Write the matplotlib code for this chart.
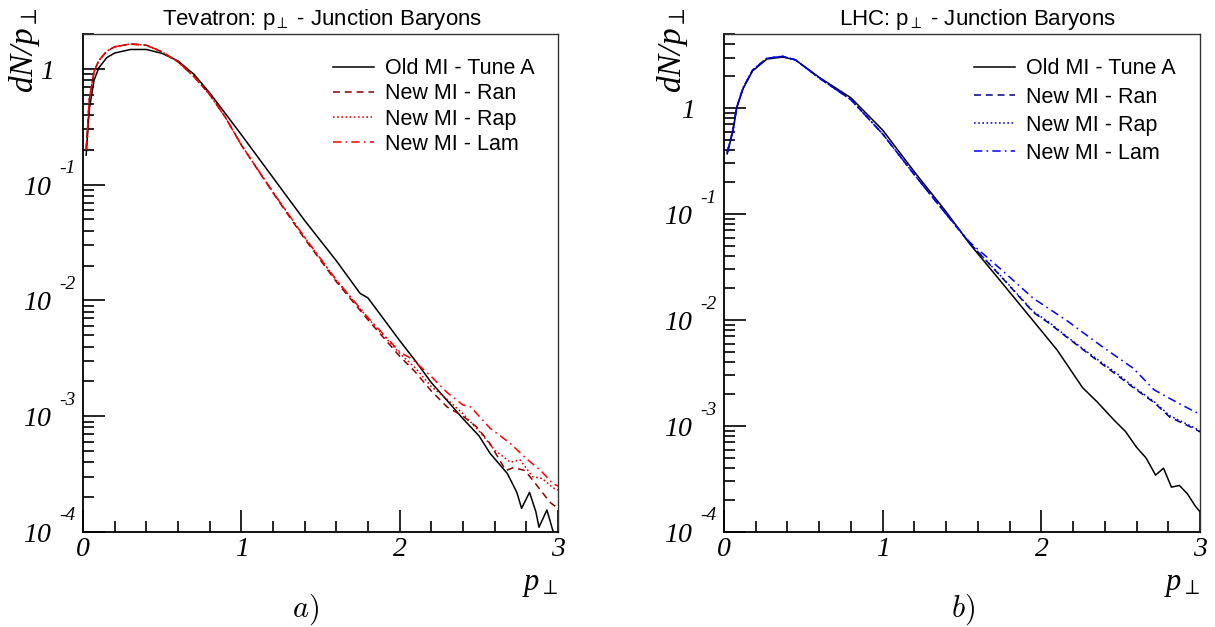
import numpy as np
import matplotlib
matplotlib.use("Agg")
import matplotlib.pyplot as plt
import matplotlib.transforms as mtrans
from matplotlib.ticker import FixedLocator, LogLocator, MultipleLocator, FuncFormatter, NullFormatter

plt.rcParams['font.family'] = ['Liberation Sans', 'DejaVu Sans']
plt.rcParams['mathtext.fontset'] = 'custom'
plt.rcParams['mathtext.rm'] = 'Liberation Serif:italic'
plt.rcParams['mathtext.it'] = 'Liberation Serif:italic'
plt.rcParams['mathtext.bf'] = 'Liberation Serif:bold'
plt.rcParams['mathtext.fallback'] = 'stix'
plt.rcParams['lines.scale_dashes'] = False

# ---------------- Data ----------------
# Tevatron panel
tev_old_x = [0.02, 0.04, 0.07, 0.10, 0.15, 0.20, 0.30, 0.40, 0.50, 0.60, 0.70, 0.80, 0.90, 1.00, 1.20, 1.40, 1.60,
             1.75, 1.80, 1.85, 2.00, 2.10, 2.20, 2.32, 2.40, 2.50, 2.57, 2.68, 2.74, 2.77, 2.82, 2.86, 2.88, 2.93, 2.97, 3.00]
tev_old_y = [0.18, 0.45, 0.80, 1.02, 1.25, 1.37, 1.47, 1.47, 1.36, 1.17, 0.90, 0.62, 0.41, 0.27, 0.115, 0.049, 0.022,
             0.0115, 0.0105, 0.0085, 4.5e-3, 3.0e-3, 1.95e-3, 1.27e-3, 9.5e-4, 6.8e-4, 4.8e-4, 3.2e-4, 2.2e-4, 1.6e-4,
             2.2e-4, 1.5e-4, 1.1e-4, 1.55e-4, 1.0e-4, 6e-5]

tev_body_x = [0.02, 0.04, 0.07, 0.10, 0.15, 0.20, 0.30, 0.40, 0.50, 0.60, 0.70, 0.80, 0.90, 1.00, 1.20, 1.40, 1.60, 1.80, 2.00]
tev_ran_body = [0.20, 0.55, 0.95, 1.18, 1.42, 1.55, 1.64, 1.60, 1.40, 1.15, 0.86, 0.60, 0.38, 0.22, 0.085, 0.034, 0.0145, 0.0068, 3.3e-3]
tev_rap_body = [0.20, 0.55, 0.95, 1.18, 1.42, 1.55, 1.64, 1.60, 1.40, 1.15, 0.86, 0.60, 0.38, 0.22, 0.086, 0.035, 0.015, 0.0070, 3.5e-3]
tev_lam_body = [0.20, 0.55, 0.95, 1.18, 1.42, 1.55, 1.64, 1.60, 1.40, 1.15, 0.86, 0.60, 0.38, 0.22, 0.086, 0.035, 0.015, 0.0071, 3.6e-3]

tev_ran_tail_x = [2.10, 2.20, 2.30, 2.40, 2.49, 2.57, 2.67, 2.72, 2.79, 2.85, 2.95, 3.00]
tev_ran_tail_y = [2.4e-3, 1.65e-3, 1.2e-3, 1.0e-3, 8.0e-4, 5.8e-4, 3.4e-4, 3.6e-4, 3.4e-4, 2.7e-4, 1.8e-4, 1.6e-4]
tev_rap_tail_x = [2.10, 2.20, 2.30, 2.40, 2.50, 2.60, 2.70, 2.76, 2.84, 2.90, 2.97, 3.00]
tev_rap_tail_y = [2.6e-3, 1.8e-3, 1.4e-3, 1.05e-3, 7.5e-4, 5.1e-4, 4.0e-4, 4.2e-4, 3.0e-4, 2.9e-4, 2.4e-4, 2.3e-4]
tev_lam_tail_x = [2.08, 2.20, 2.30, 2.40, 2.45, 2.48, 2.57, 2.70, 2.80, 2.89, 2.97, 3.00]
tev_lam_tail_y = [3.1e-3, 2.2e-3, 1.6e-3, 1.25e-3, 1.2e-3, 1.08e-3, 7.9e-4, 5.8e-4, 4.3e-4, 3.4e-4, 2.6e-4, 2.5e-4]

# LHC panel
lhc_old_x = [0.02, 0.057, 0.08, 0.12, 0.18, 0.27, 0.37, 0.45, 0.60, 0.80, 1.00, 1.20, 1.40, 1.55, 1.74, 2.01, 2.10,
             2.26, 2.35, 2.46, 2.53, 2.60, 2.66, 2.72, 2.77, 2.82, 2.87, 2.92, 2.97, 3.00]
lhc_old_y = [0.37, 0.61, 1.0, 1.52, 2.24, 2.9, 3.03, 2.85, 1.95, 1.25, 0.62, 0.25, 0.105, 0.052, 0.0236, 7.6e-3, 5.2e-3,
             2.3e-3, 1.7e-3, 1.13e-3, 8.9e-4, 6.3e-4, 5.0e-4, 3.44e-4, 4.0e-4, 2.65e-4, 2.75e-4, 2.3e-4, 1.76e-4, 1.55e-4]

lhc_body_x = [0.02, 0.057, 0.08, 0.12, 0.18, 0.27, 0.37, 0.45, 0.60, 0.80, 1.00, 1.20, 1.40, 1.55]
lhc_ran_body = [0.38, 0.63, 1.02, 1.55, 2.28, 2.95, 3.08, 2.85, 1.92, 1.20, 0.57, 0.235, 0.10, 0.053]
lhc_rap_body = [0.38, 0.63, 1.02, 1.55, 2.28, 2.95, 3.08, 2.85, 1.92, 1.20, 0.57, 0.235, 0.10, 0.053]
lhc_lam_body = [0.38, 0.63, 1.02, 1.55, 2.28, 2.95, 3.08, 2.85, 1.92, 1.20, 0.57, 0.235, 0.10, 0.054]

lhc_ran_tail_x = [1.74, 1.95, 2.05, 2.16, 2.33, 2.48, 2.58, 2.71, 2.81, 2.96, 3.00]
lhc_ran_tail_y = [0.0263, 0.0118, 9.3e-3, 6.9e-3, 4.4e-3, 3.0e-3, 2.3e-3, 1.67e-3, 1.21e-3, 9.5e-4, 8.8e-4]
lhc_rap_tail_x = [1.74, 1.95, 2.05, 2.16, 2.33, 2.48, 2.58, 2.71, 2.81, 2.96, 3.00]
lhc_rap_tail_y = [0.0265, 0.012, 9.5e-3, 7.0e-3, 4.5e-3, 3.1e-3, 2.35e-3, 1.7e-3, 1.25e-3, 9.7e-4, 9.0e-4]
lhc_lam_tail_x = [1.74, 1.95, 2.16, 2.37, 2.58, 2.71, 2.83, 2.96, 3.00]
lhc_lam_tail_y = [0.0306, 0.016, 9.9e-3, 5.8e-3, 3.5e-3, 2.2e-3, 1.75e-3, 1.38e-3, 1.3e-3]

labels = ["Old MI - Tune A", "New MI - Ran", "New MI - Rap", "New MI - Lam"]
titles = ["Tevatron: p$_{\\perp}$ - Junction Baryons", "LHC: p$_{\\perp}$ - Junction Baryons"]
panel_tags = ["a)", "b)"]
ylims = [(1e-4, 2.0), (1e-4, 5.0)]
decades = [-1, -2, -3, -4]

red_colors = ['black', '#8b0000', '#e00000', '#ff0000']
blue_colors = ['black', '#00008b', '#0000d0', '#0000ff']
styles = ['-', (0, (5, 3.5)), (0, (1.2, 1.8)), (0, (6, 3, 1.2, 3))]

# ---------------- Figure ----------------
W, H = 1215, 627
fig = plt.figure(figsize=(W / 100, H / 100), dpi=100)

def px_axes(x0, x1, y0, y1):
    return fig.add_axes([x0 / W, 1 - y1 / H, (x1 - x0) / W, (y1 - y0) / H])

ax1 = px_axes(83, 558, 34, 532)
ax2 = px_axes(724, 1200, 34, 532)

def join(bx, by, tx, ty):
    return list(bx) + list(tx), list(by) + list(ty)

tev_series = [
    (tev_old_x, tev_old_y),
    join(tev_body_x, tev_ran_body, tev_ran_tail_x, tev_ran_tail_y),
    join(tev_body_x, tev_rap_body, tev_rap_tail_x, tev_rap_tail_y),
    join(tev_body_x, tev_lam_body, tev_lam_tail_x, tev_lam_tail_y),
]
lhc_series = [
    (lhc_old_x, lhc_old_y),
    join(lhc_body_x, lhc_ran_body, lhc_ran_tail_x, lhc_ran_tail_y),
    join(lhc_body_x, lhc_rap_body, lhc_rap_tail_x, lhc_rap_tail_y),
    join(lhc_body_x, lhc_lam_body, lhc_lam_tail_x, lhc_lam_tail_y),
]

def yfmt(v, pos):
    e = int(round(np.log10(v)))
    return r"$1$" if e == 0 else r"$10$"

def xfmt(v, pos):
    return r"$%d$" % int(round(v))

ylab_x = [-0.124, -0.109]
legend_spacing = [0.19, 0.33]

for i, (ax, series, cols) in enumerate([(ax1, tev_series, red_colors), (ax2, lhc_series, blue_colors)]):
    handles = []
    for (x, y), c, ls, lab in zip(series, cols, styles, labels):
        ln, = ax.plot(x, y, color=c, linestyle=ls, linewidth=1.1, label=lab)
        handles.append(ln)
    ax.set_yscale('log')
    ax.set_xlim(0, 3)
    ax.set_ylim(*ylims[i])
    ax.xaxis.set_major_locator(FixedLocator([0, 1, 2, 3]))
    ax.xaxis.set_minor_locator(MultipleLocator(0.2))
    ax.xaxis.set_major_formatter(FuncFormatter(xfmt))
    ax.yaxis.set_major_locator(LogLocator(base=10, numticks=10))
    ax.yaxis.set_minor_locator(LogLocator(base=10, subs=np.arange(2, 10), numticks=20))
    ax.yaxis.set_major_formatter(FuncFormatter(yfmt))
    ax.yaxis.set_minor_formatter(NullFormatter())
    ax.tick_params(which='both', direction='in', top=False, right=False, width=1.2)
    ax.tick_params(which='major', length=16, labelsize=20)
    ax.tick_params(which='minor', length=8)
    ax.tick_params(axis='x', pad=3)
    ax.tick_params(axis='y', pad=22)
    for s in ['left', 'bottom']:
        ax.spines[s].set_linewidth(1.3)
    for s in ['top', 'right']:
        ax.spines[s].set_linewidth(1.0)
        ax.spines[s].set_color('#333333')
    # exponents of the decade labels (ROOT style, raised to the right of "10")
    tr = mtrans.offset_copy(mtrans.blended_transform_factory(ax.transAxes, ax.transData),
                            fig=fig, x=-7, y=16, units='dots')
    for e in decades:
        ax.text(0, 10.0 ** e, "%d" % e, transform=tr, ha='right', va='center', fontsize=14,
                family='Liberation Serif', style='italic', clip_on=False)
    ax.legend(handles=handles, loc='upper left', bbox_to_anchor=(0.526, 0.951), borderaxespad=0, borderpad=0,
              frameon=False, fontsize=15.5, handlelength=1.9, handletextpad=0.5,
              labelspacing=legend_spacing[i])
    ax.text(ylab_x[i], 1.052, r"$dN/p_{\perp}$", transform=ax.transAxes, rotation=90, ha='center', va='top',
            fontsize=24)
    ax.text(1.0, -0.075, r"$p_{\perp}$", transform=ax.transAxes, ha='right', va='top', fontsize=22)

fig.text(322 / W, 1 - 19 / H, titles[0], ha='center', va='center', fontsize=16)
fig.text(977 / W, 1 - 19 / H, titles[1], ha='center', va='center', fontsize=16)
fig.text(306 / W, 1 - 610 / H, r"$\mathit{a)}$", ha='center', va='center', fontsize=22, math_fontfamily='cm')
fig.text(963 / W, 1 - 610 / H, r"$\mathit{b)}$", ha='center', va='center', fontsize=22, math_fontfamily='cm')

fig.savefig("out.png", dpi=100)
